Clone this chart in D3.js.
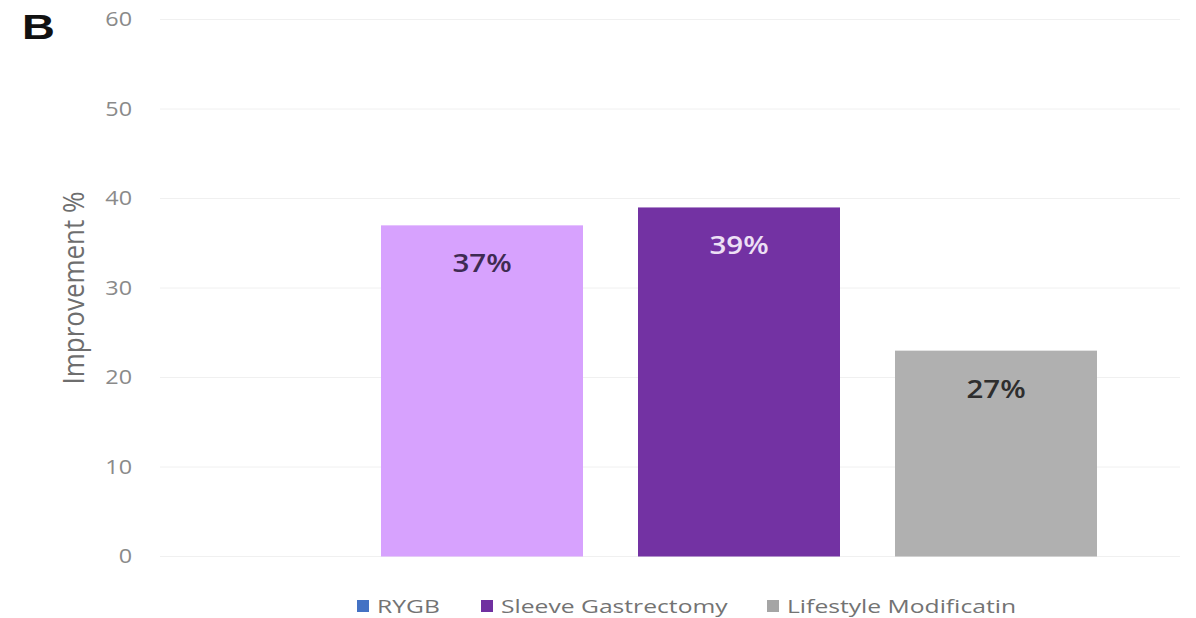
<!DOCTYPE html>
<html>
<head>
<meta charset="utf-8">
<script src="https://cdn.jsdelivr.net/npm/d3@7"></script>
<style>
  html, body { margin: 0; padding: 0; background: #fff; }
  svg { display: block; }
</style>
</head>
<body>
<svg id="chart" width="1196" height="618"></svg>
<script>
const categories = ["RYGB", "Sleeve Gastrectomy", "Lifestyle Modificatin"];
const values = [37, 39, 23];
const barLabels = ["37%", "39%", "27%"];
const yTicks = [0, 10, 20, 30, 40, 50, 60];
const barColors = ["#D7A2FE", "#7332A3", "#B0B0B0"];
const labelColors = ["#3E2B52", "#EDE0F5", "#2E2E2E"];
const legendColors = ["#4472C4", "#7030A0", "#A5A5A5"];

const svg = d3.select("#chart");
const font = "'Open Sans', 'Noto Sans', sans-serif";

const y = d3.scaleLinear().domain([0, 60]).range([556.5, 19.5]);
const x = d3.scaleBand().domain(categories).range([381, 1097]).paddingInner(0.214).paddingOuter(0);

// panel letter
svg.append("text").attr("transform", "translate(22,39) scale(1.3,1)")
  .attr("font-family", "'Liberation Sans', Arial, sans-serif")
  .attr("font-weight", "bold").attr("font-size", 35).attr("fill", "#111")
  .text("B");

// gridlines
svg.append("g").selectAll("line").data(yTicks).join("line")
  .attr("x1", 160).attr("x2", 1180)
  .attr("y1", d => y(d)).attr("y2", d => y(d))
  .attr("stroke", "#F0F0F0").attr("stroke-width", 1);

// y axis labels via d3 axis
const yAxis = d3.axisLeft(y).tickValues(yTicks).tickSize(0).tickPadding(0);
const gy = svg.append("g").attr("transform", "translate(132,0)").call(yAxis);
gy.select(".domain").remove();
gy.selectAll("text").attr("font-family", font).attr("font-size", 20).attr("fill", "#8A8A8A")
  .attr("transform", "scale(1.17,1)");

// y title
svg.append("text")
  .attr("transform", "translate(84,288) scale(1.15,1) rotate(-90)")
  .attr("text-anchor", "middle")
  .attr("font-family", font).attr("font-size", 26).attr("fill", "#6E6E6E")
  .text("Improvement %");

// bars
svg.append("g").selectAll("rect").data(categories).join("rect")
  .attr("x", d => x(d)).attr("width", x.bandwidth())
  .attr("y", (d, i) => y(values[i]))
  .attr("height", (d, i) => y(0) - y(values[i]))
  .attr("fill", (d, i) => barColors[i]);

// bar labels
svg.append("g").selectAll("text").data(categories).join("text")
  .attr("transform", (d, i) => `translate(${x(d) + x.bandwidth() / 2},${y(values[i]) + 47}) scale(1.18,1)`)
  .attr("text-anchor", "middle")
  .attr("font-family", font).attr("font-size", 25).attr("font-weight", 600)
  .attr("fill", (d, i) => labelColors[i])
  .text((d, i) => barLabels[i]);

// legend
const legendX = [357, 481, 767];
const lg = svg.append("g").selectAll("g").data(categories).join("g")
  .attr("transform", (d, i) => `translate(${legendX[i]},600)`);
lg.append("rect").attr("width", 12).attr("height", 12).attr("fill", (d, i) => legendColors[i]);
lg.append("text").attr("transform", "translate(20,12.5) scale(1.37,1)")
  .attr("font-family", font).attr("font-size", 18).attr("fill", "#737373")
  .text(d => d);
</script>
</body>
</html>
